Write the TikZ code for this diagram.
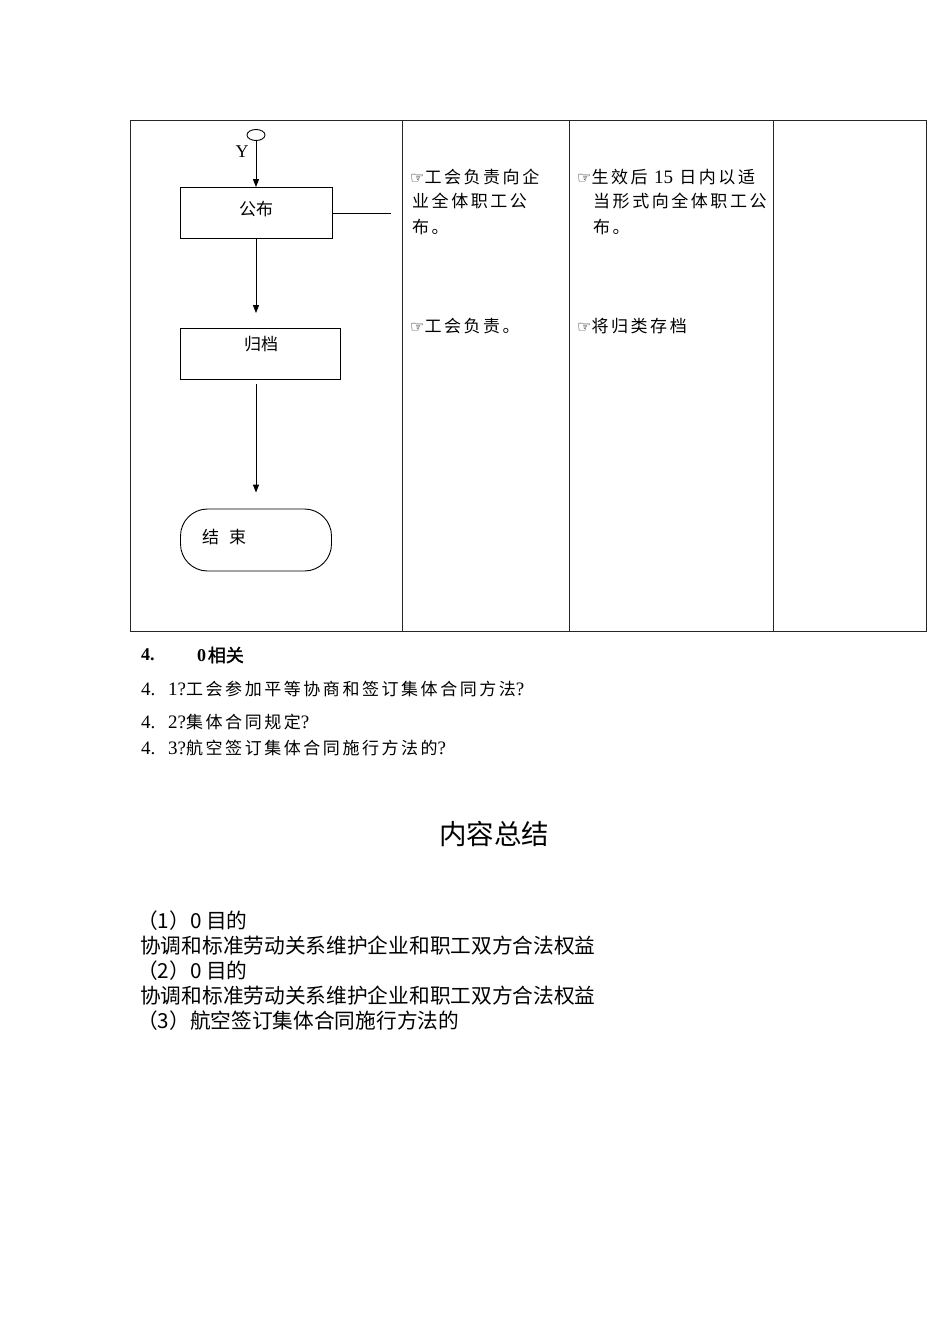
\documentclass[tikz,border=0pt]{standalone}
\usepackage{fontspec}
\setmainfont{Liberation Serif}
\newfontfamily\cjk{Noto Sans CJK SC}
\newfontfamily\cjksp[LetterSpace=15]{Noto Sans CJK SC}
\newfontfamily\cjkb[FakeBold=1.5]{Noto Sans CJK SC}
\newfontfamily\dv{DejaVu Sans}
\usetikzlibrary{arrows.meta,shapes.geometric}
\newcommand\tbf{\fontsize{17}{18}\cjksp}
\newcommand\la[1]{{\rmfamily\fontsize{19}{18}\selectfont #1}}
\newcommand\hand{{\fontsize{16}{12}\dv ☞}}
\newcommand\bigf{\fontsize{20.7}{24}\cjk}
\tikzset{
  tbl/.style={line width=0.9pt, draw=black!85},
  fbox/.style={draw, rectangle, inner sep=0pt, line width=0.9pt},
  term/.style={draw, rectangle, rounded corners=27pt, minimum width=151pt, minimum height=62pt, inner sep=0pt, line width=0.9pt},
  arr/.style={line width=0.9pt, -{Triangle[length=8pt,width=6pt]}},
  txt/.style={anchor=west, inner sep=0pt, font=\tbf},
  big/.style={anchor=west, inner sep=0pt, font=\bigf},
}
\begin{document}
\begin{tikzpicture}[x=1pt,y=-1pt]
\fill[white] (0,0) rectangle (950,1344);
\useasboundingbox (0,0) rectangle (950,1344);
% table
\draw[tbl] (130,120) rectangle (926,631);
\draw[tbl] (402,120) -- (402,631);
\draw[tbl] (569,120) -- (569,631);
\draw[tbl] (773,120) -- (773,631);
% flowchart
\node[draw, ellipse, minimum width=18pt, minimum height=11pt, inner sep=0pt, line width=0.9pt] (start) at (256,135) {};
\node[anchor=center, inner sep=0pt, font=\rmfamily\fontsize{18}{18}\selectfont] (ylab) at (242,152) {Y};
\node[fbox, minimum width=152pt, minimum height=51pt] (pub) at (256,213) {};
\node[inner sep=0pt, font=\fontsize{17}{18}\cjk] (pubt) at (256,209) {公布};
\node[fbox, minimum width=160pt, minimum height=51pt] (arc) at (260,354) {};
\node[inner sep=0pt, font=\fontsize{17}{18}\cjk] (arct) at (261,344) {归档};
\node[term] (end) at (256,540) {};
\node[anchor=west, inner sep=0pt, font=\fontsize{17}{18}\cjk] (endt) at (202,537) {结\hspace{10pt}束};
\coordinate (pubr) at (391,213);
\draw[arr] (start.south) -- (pub.north);
\draw[line width=0.9pt] (pub.east) -- (pubr);
\draw[arr, shorten >=15pt] (pub.south -| start) -- (arc.north -| start);
\draw[arr, shorten <=4pt, shorten >=16pt] (arc.south -| start) -- (end.north -| start);
% column 2
\node[txt] (c2a) at (410,177) {\hand 工会负责向企};
\node[txt] (c2b) at (412,201) {业全体职工公};
\node[txt] (c2c) at (412,227) {布。};
\node[txt] (c2d) at (410,326) {\hand 工会负责。};
% column 3
\node[txt] (c3a) at (577,177) {\hand 生效后 \la{15} 日内以适};
\node[txt] (c3b) at (593,201) {当形式向全体职工公};
\node[txt] (c3c) at (593,227) {布。};
\node[txt] (c3d) at (577,326) {\hand 将归类存档};
% related
\node[anchor=west, inner sep=0pt] (r0) at (141,655) {{\rmfamily\bfseries\fontsize{18}{18}\selectfont 4.}};
\node[anchor=west, inner sep=0pt] (r0b) at (197,655) {{\rmfamily\bfseries\fontsize{18}{18}\selectfont 0}\,{\fontsize{18}{18}\cjkb 相关}};
\node[txt] (r1) at (141,689) {\la{4.}\ \ \la{1?}工会参加平等协商和签订集体合同方法\la{?}};
\node[txt] (r2) at (141,722) {\la{4.}\ \ \la{2?}集体合同规定\la{?}};
\node[txt] (r3) at (141,748) {\la{4.}\ \ \la{3?}航空签订集体合同施行方法的\la{?}};
% summary
\node[inner sep=0pt, font=\fontsize{27.5}{30}\cjk] (title) at (494,834) {内容总结};
\node[big] (s1) at (137,921) {（1）0 目的};
\node[big] (s2) at (140,946) {协调和标准劳动关系维护企业和职工双方合法权益};
\node[big] (s3) at (137,971) {（2）0 目的};
\node[big] (s4) at (140,996) {协调和标准劳动关系维护企业和职工双方合法权益};
\node[big] (s5) at (137,1021) {（3）航空签订集体合同施行方法的};
\end{tikzpicture}
\end{document}
